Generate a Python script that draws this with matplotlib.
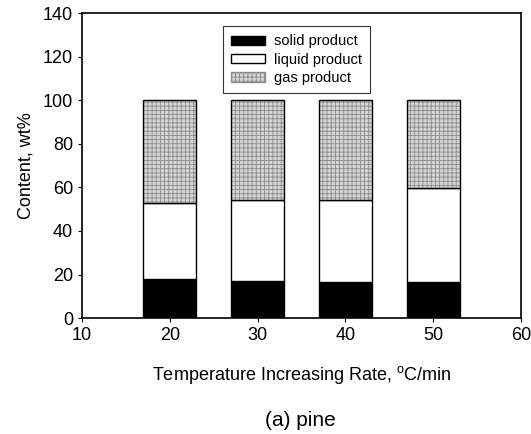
import matplotlib

matplotlib.use("Agg")
import matplotlib.pyplot as plt
import numpy as np
from matplotlib.patches import Patch

plt.rcParams["font.family"] = ["Liberation Sans", "DejaVu Sans"]
plt.rcParams["hatch.linewidth"] = 0.6

rates = [20, 30, 40, 50]
solid = [18.0, 17.0, 16.7, 16.4]
liquid = [34.9, 37.4, 37.7, 43.1]
gas = [100 - s - l for s, l in zip(solid, liquid)]

fig = plt.figure(figsize=(5.31, 4.34), dpi=100)
ax = fig.add_axes([0.1544, 0.267, 0.827, 0.703])

x = np.array(rates, dtype=float)
width = 6
solid_arr = np.array(solid)
liquid_arr = np.array(liquid)
gas_arr = np.array(gas)

ax.bar(x, solid_arr, width=width, color="black", edgecolor="black", linewidth=1)
ax.bar(x, liquid_arr, width=width, bottom=solid_arr, color="white", edgecolor="black", linewidth=1)
ax.bar(x, gas_arr, width=width, bottom=solid_arr + liquid_arr, color="#d4d4d4",
       edgecolor="#8c8c8c", hatch="++++", linewidth=0)
ax.bar(x, gas_arr, width=width, bottom=solid_arr + liquid_arr, fill=False,
       edgecolor="black", linewidth=1)

ax.set_xlim(10, 60)
ax.set_ylim(0, 140)
ax.set_xticks([10, 20, 30, 40, 50, 60])
ax.set_yticks(range(0, 141, 20))
ax.tick_params(direction="out", length=3, width=0.8, labelsize=13, colors="black")
for s in ax.spines.values():
    s.set_linewidth(1.2)

ax.set_ylabel("Content, wt%", fontsize=13, labelpad=6)
ax.set_xlabel("Temperature Increasing Rate, $^{\\mathregular{o}}$C/min", fontsize=13, labelpad=14)
fig.text(0.565, 0.018, "(a) pine", ha="center", fontsize=15)

handles = [
    Patch(facecolor="black", edgecolor="black", label="solid product"),
    Patch(facecolor="white", edgecolor="black", label="liquid product"),
    Patch(facecolor="#d4d4d4", edgecolor="#8c8c8c", hatch="++++", label="gas product"),
]
leg = ax.legend(handles=handles, loc="upper left", bbox_to_anchor=(0.305, 0.98),
                fontsize=10.5, frameon=True, fancybox=False, handlelength=2.3,
                handleheight=0.6, borderpad=0.55, labelspacing=0.3, handletextpad=0.6)
leg.get_frame().set_edgecolor("black")
leg.get_frame().set_linewidth(0.8)

fig.savefig("out.png", dpi=100)
